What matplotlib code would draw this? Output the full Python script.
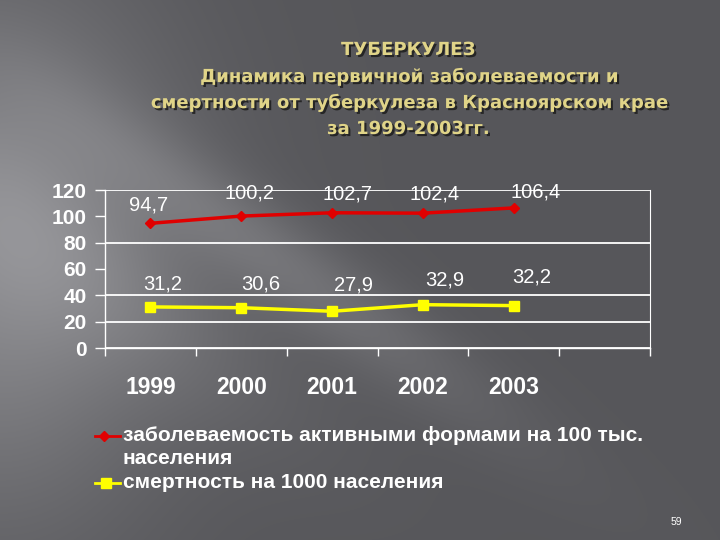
import numpy as np
import matplotlib
matplotlib.use("Agg")
import matplotlib.pyplot as plt
import matplotlib.patheffects as pe

years = ["1999", "2000", "2001", "2002", "2003"]
incidence = [94.7, 100.2, 102.7, 102.4, 106.4]
mortality = [31.2, 30.6, 27.9, 32.9, 32.2]
incidence_labels = ["94,7", "100,2", "102,7", "102,4", "106,4"]
mortality_labels = ["31,2", "30,6", "27,9", "32,9", "32,2"]
yticks = [0, 20, 40, 60, 80, 100, 120]
grid_values = [0, 20, 40, 80, 120]
title_lines = ["ТУБЕРКУЛЕЗ",
               "Динамика первичной заболеваемости и",
               "смертности от туберкулеза в Красноярском крае",
               "за 1999-2003гг."]
legend_inc = "заболеваемость активными формами на 100 тыс.\nнаселения"
legend_mort = "смертность на 1000 населения"

W, H = 720, 540
fig = plt.figure(figsize=(7.2, 5.4), dpi=100)

# background gradient
bg = fig.add_axes([0, 0, 1, 1], zorder=-10)
yy, xx = np.mgrid[0:H, 0:W].astype(float)
base = np.full((H, W), 0.34)
base += 0.20 * np.exp(-((xx) / 170.0) ** 2) * np.exp(-((yy - 250) / 260.0) ** 2)
d = (yy - 0.72 * xx - 60) / np.sqrt(1 + 0.72 ** 2)
along = (xx + 0.72 * yy) / np.sqrt(1 + 0.72 ** 2)
base += 0.10 * np.exp(-(d / 45.0) ** 2) * np.exp(-((along - 380) / 260.0) ** 2)
base += 0.06 * np.exp(-((d - 120) / 80.0) ** 2) * np.exp(-((along - 250) / 250.0) ** 2)
base = np.clip(base, 0, 1)
img = np.clip(np.dstack([base, base, base + 0.015]), 0, 1)
bg.imshow(img, extent=[0, W, H, 0], aspect="auto")
bg.set_xlim(0, W)
bg.set_ylim(H, 0)
bg.axis("off")

# title
title_color = "#e0d488"
shadow = [pe.withSimplePatchShadow(offset=(1.5, -1.5), shadow_rgbFace="#202020", alpha=0.9)]
ty = [50, 77, 103, 129]
for line, y in zip(title_lines, ty):
    fig.text(408 / W, 1 - y / H, line, ha="center", va="center", color=title_color,
             fontsize=13, fontweight="bold", family="DejaVu Sans", path_effects=shadow)

# chart
ax = fig.add_axes([105 / W, 1 - 348 / H, (650 - 105) / W, (348 - 190) / H])
ax.set_facecolor("none")
x = np.arange(len(years)) + 0.5
ax.set_xlim(0, 6)
ax.set_ylim(0, 120)

for v in grid_values:
    ax.axhline(v, color="white", lw=1.3, zorder=1)

ax.plot(x, incidence, color="#e00000", lw=2.5, marker="D", ms=5.5, zorder=3)
ax.plot(x, mortality, color="#ffff00", lw=2.5, marker="s", ms=7.5, zorder=3)

inc_off = [(-2, 18), (8, 23), (15, 19), (12, 19), (22, 16)]
mort_off = [(12, 23), (20, 24), (21, 26), (22, 25), (18, 29)]
for xi, v, lab, o in zip(x, incidence, incidence_labels, inc_off):
    ax.annotate(lab, (xi, v), xytext=o, textcoords="offset pixels", ha="center",
                va="center", color="white", fontsize=14.5, family="Liberation Sans")
for xi, v, lab, o in zip(x, mortality, mortality_labels, mort_off):
    ax.annotate(lab, (xi, v), xytext=o, textcoords="offset pixels", ha="center",
                va="center", color="white", fontsize=14.5, family="Liberation Sans")

ax.set_yticks(yticks)
ax.set_yticklabels([str(t) for t in yticks], color="white", fontsize=15,
                   family="Liberation Sans", fontweight="bold")
ax.set_xticks(np.arange(0, 7))
ax.set_xticklabels([])
ax.set_xticks(x, minor=True)
ax.set_xticklabels(years, minor=True, color="white", fontsize=16.5,
                   family="Liberation Sans", fontweight="bold")
ax.tick_params(axis="x", which="minor", length=0, pad=20)
ax.tick_params(axis="x", which="major", length=6, color="white", width=1)
ax.tick_params(axis="y", length=7, color="white", width=1, pad=6)
for s in ["left", "bottom", "right"]:
    ax.spines[s].set_color("white")
    ax.spines[s].set_linewidth(1.0)
ax.spines["top"].set_visible(False)
ax.spines["right"].set_linewidth(0.8)

# legend
lax = fig.add_axes([0, 0, 1, 1], zorder=5)
lax.set_xlim(0, W)
lax.set_ylim(H, 0)
lax.axis("off")
lax.plot([95, 120], [436, 436], color="#e00000", lw=2)
lax.plot([104], [436], marker="D", color="#e00000", ms=5, ls="none")
lax.plot([95, 120], [483, 483], color="#ffff00", lw=2)
lax.plot([106], [483], marker="s", color="#ffff00", ms=6.5, ls="none")
lax.text(123, 426, legend_inc, ha="left", va="top", color="white", fontsize=15,
         family="Liberation Sans", fontweight="bold", linespacing=1.3)
lax.text(123, 483, legend_mort, ha="left", va="center", color="white", fontsize=15,
         family="Liberation Sans", fontweight="bold")
lax.text(676, 522, "59", ha="center", va="center", color="white", fontsize=7.5,
         family="Liberation Sans")

fig.savefig("out.png", dpi=100)
